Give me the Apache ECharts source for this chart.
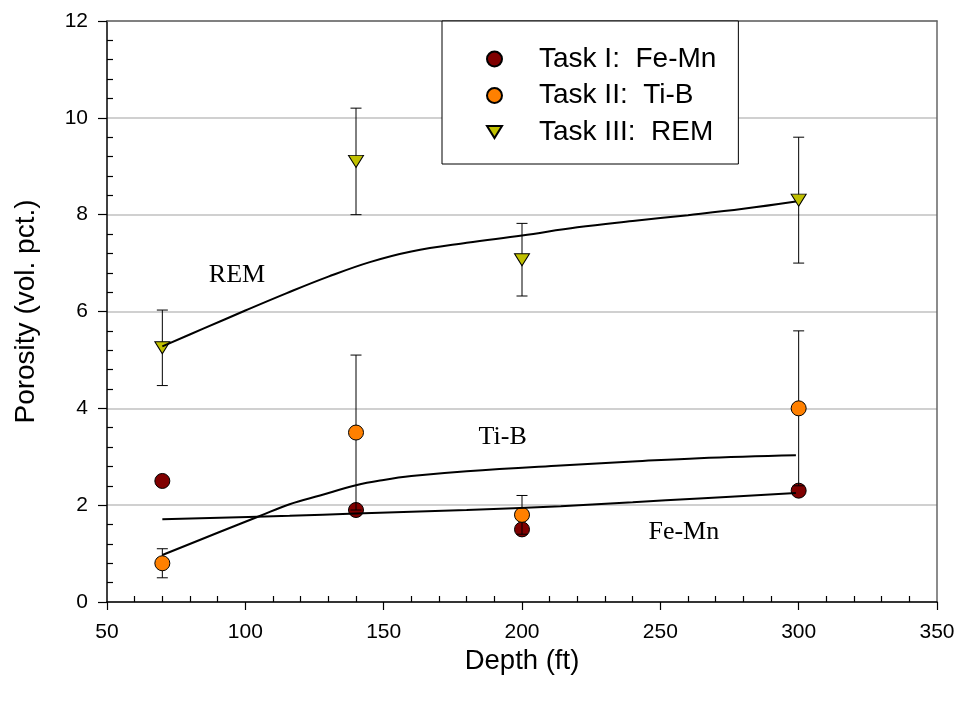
<!DOCTYPE html>
<html>
<head>
<meta charset="utf-8">
<script src="https://cdn.jsdelivr.net/npm/echarts@6/dist/echarts.min.js"></script>
<style>
html,body{margin:0;padding:0;background:#fff;}
#chart{width:961px;height:705px;}
</style>
</head>
<body>
<div id="chart"></div>
<script>
// ---- data ----
const depths = [70, 140, 200, 300];
const feMn = [2.5, 1.9, 1.5, 2.3];
const tiB = [0.8, 3.5, 1.8, 4.0];
const tiBErr = [0.3, 1.6, 0.4, 1.6];
const rem = [5.25, 9.1, 7.07, 8.3];
const remErr = [0.78, 1.1, 0.75, 1.3];

const remFitX = [70, 85, 100, 115, 130, 145, 160, 180, 200, 220, 240, 260, 280, 299];
const remFitY = [5.28, 5.65, 6.02, 6.38, 6.72, 7.02, 7.24, 7.42, 7.57, 7.74, 7.87, 7.99, 8.12, 8.27];
const tiBFitX = [70, 90, 105, 116, 127, 140, 150, 160, 180, 214, 240, 264, 299];
const tiBFitY = [0.97, 1.43, 1.77, 2.02, 2.2, 2.41, 2.52, 2.6, 2.7, 2.82, 2.9, 2.97, 3.03];
const feMnFitX = [70, 116, 140, 180, 214, 240, 264, 299];
const feMnFitY = [1.71, 1.78, 1.83, 1.9, 1.98, 2.06, 2.14, 2.25];

const seriesNames = ['Task I:  Fe-Mn', 'Task II:  Ti-B', 'Task III:  REM'];
const annotationText = ['REM', 'Ti-B', 'Fe-Mn'];
const annotationX = [97, 193, 258.5];
const annotationY = [6.76, 3.4, 1.44];

const xTicks = [50, 100, 150, 200, 250, 300, 350];
const yTicks = [0, 2, 4, 6, 8, 10, 12];
const xTitle = 'Depth (ft)';
const yTitle = 'Porosity (vol. pct.)';

// ---- helpers ----
const zip = (xs, ys) => xs.map((x, i) => [x, ys[i]]);
const xMinor = [];
for (let v = xTicks[0]; v <= xTicks[xTicks.length - 1]; v += 10) {
  if (v % 50 !== 0) xMinor.push(v);
}
const yMinor = [];
for (let i = 0; i <= 30; i++) {
  const v = Math.round(i * 0.4 * 10) / 10;
  if (Math.abs(v / 2 - Math.round(v / 2)) > 1e-6) yMinor.push(v);
}
const errData = [];
depths.forEach((d, i) => {
  errData.push([d, tiB[i] - tiBErr[i], tiB[i] + tiBErr[i]]);
  errData.push([d, rem[i] - remErr[i], rem[i] + remErr[i]]);
});

const sansFont = "'Liberation Sans', Arial, sans-serif";
const serifFont = "'Liberation Serif', 'Times New Roman', serif";
const downTriangle = 'path://M0,0 L16,0 L8,13 Z';

const chart = echarts.init(document.getElementById('chart'), null, {renderer: 'canvas'});
const option = {
  backgroundColor: '#ffffff',
  animation: false,
  grid: {left: 107, right: 24, top: 21, bottom: 103, containLabel: false},
  legend: {
    orient: 'vertical',
    left: 442,
    top: 21,
    padding: [24, 22, 18, 44],
    itemWidth: 15,
    itemHeight: 15,
    itemGap: 8.5,
    backgroundColor: '#ffffff',
    borderColor: '#000000',
    borderWidth: 1,
    data: [
      {name: seriesNames[0], icon: 'circle'},
      {name: seriesNames[1], icon: 'circle'},
      {name: seriesNames[2], icon: downTriangle}
    ],
    textStyle: {
      fontFamily: sansFont,
      fontSize: 28,
      lineHeight: 25,
      color: '#000000',
      padding: [0, 0, 0, 32]
    }
  },
  xAxis: [
    {
      type: 'value', min: 50, max: 350, interval: 50, position: 'bottom',
      name: xTitle, nameLocation: 'middle', nameGap: 44,
      nameTextStyle: {fontFamily: sansFont, fontSize: 27.5, color: '#000'},
      axisLine: {show: true, onZero: false, lineStyle: {color: '#000', width: 1.5}},
      axisTick: {show: true, inside: false, length: 8, lineStyle: {color: '#000', width: 1.2}},
      axisLabel: {fontFamily: sansFont, fontSize: 21, color: '#000', margin: 20},
      splitLine: {show: false}
    },
    {
      type: 'value', min: 50, max: 350, position: 'bottom',
      axisLine: {show: false, onZero: false},
      axisTick: {show: true, inside: true, length: 6, customValues: xMinor, lineStyle: {color: '#000', width: 1.2}},
      axisLabel: {show: false},
      splitLine: {show: false}
    },
    {
      type: 'value', min: 50, max: 350, position: 'top',
      axisLine: {show: true, onZero: false, lineStyle: {color: '#666', width: 1.5}},
      axisTick: {show: false}, axisLabel: {show: false}, splitLine: {show: false}
    }
  ],
  yAxis: [
    {
      type: 'value', min: 0, max: 12, interval: 2, position: 'left',
      name: yTitle, nameLocation: 'middle', nameGap: 67,
      nameTextStyle: {fontFamily: sansFont, fontSize: 28, color: '#000'},
      axisLine: {show: true, onZero: false, lineStyle: {color: '#000', width: 1.5}},
      axisTick: {show: true, inside: false, length: 9, lineStyle: {color: '#000', width: 1.2}},
      axisLabel: {fontFamily: sansFont, fontSize: 21, color: '#000', margin: 19},
      splitLine: {show: true, lineStyle: {color: '#c0c0c0', width: 1.6}}
    },
    {
      type: 'value', min: 0, max: 12, position: 'left',
      axisLine: {show: false, onZero: false},
      axisTick: {show: true, inside: true, length: 6, customValues: yMinor, lineStyle: {color: '#000', width: 1.2}},
      axisLabel: {show: false},
      splitLine: {show: false}
    },
    {
      type: 'value', min: 0, max: 12, position: 'right',
      axisLine: {show: true, onZero: false, lineStyle: {color: '#666', width: 1.5}},
      axisTick: {show: false}, axisLabel: {show: false}, splitLine: {show: false}
    }
  ],
  series: [
    {
      name: seriesNames[0], type: 'scatter', z: 2,
      symbol: 'circle', symbolSize: 15,
      itemStyle: {color: '#800000', borderColor: '#000', borderWidth: 1, opacity: 1},
      data: zip(depths, feMn)
    },
    {
      name: 'errors', type: 'custom', z: 3,
      renderItem: function (params, api) {
        const x = api.value(0);
        const lo = api.coord([x, api.value(1)]);
        const hi = api.coord([x, api.value(2)]);
        const hw = 5.5;
        const st = {stroke: '#000', lineWidth: 1};
        return {
          type: 'group',
          children: [
            {type: 'line', shape: {x1: lo[0], y1: lo[1], x2: hi[0], y2: hi[1]}, style: st},
            {type: 'line', shape: {x1: lo[0] - hw, y1: lo[1], x2: lo[0] + hw, y2: lo[1]}, style: st},
            {type: 'line', shape: {x1: hi[0] - hw, y1: hi[1], x2: hi[0] + hw, y2: hi[1]}, style: st}
          ]
        };
      },
      encode: {x: 0, y: [1, 2]},
      data: errData,
      silent: true
    },
    {
      name: seriesNames[1], type: 'scatter', z: 4,
      symbol: 'circle', symbolSize: 15,
      itemStyle: {color: '#ff8000', borderColor: '#000', borderWidth: 1, opacity: 1},
      data: zip(depths, tiB)
    },
    {
      name: seriesNames[2], type: 'scatter', z: 4,
      symbol: 'triangle', symbolSize: [15, 12], symbolRotate: 180,
      itemStyle: {color: '#c0c000', borderColor: '#000', borderWidth: 1, opacity: 1},
      data: zip(depths, rem)
    },
    {
      name: 'REM fit', type: 'line', z: 5, smooth: 0.4,
      showSymbol: false, silent: true,
      lineStyle: {color: '#000', width: 2},
      data: zip(remFitX, remFitY)
    },
    {
      name: 'Ti-B fit', type: 'line', z: 5, smooth: 0.4,
      showSymbol: false, silent: true,
      lineStyle: {color: '#000', width: 2},
      data: zip(tiBFitX, tiBFitY)
    },
    {
      name: 'Fe-Mn fit', type: 'line', z: 5, smooth: 0.4,
      showSymbol: false, silent: true,
      lineStyle: {color: '#000', width: 2},
      data: zip(feMnFitX, feMnFitY)
    },
    {
      name: 'annotations', type: 'scatter', z: 6, symbolSize: 0, silent: true,
      itemStyle: {opacity: 1},
      label: {
        show: true, position: 'inside',
        formatter: p => p.name,
        fontFamily: serifFont, fontSize: 26, color: '#000', opacity: 1
      },
      data: annotationText.map((t, i) => ({name: t, value: [annotationX[i], annotationY[i]]}))
    }
  ]
};
chart.setOption(option);
</script>
</body>
</html>
